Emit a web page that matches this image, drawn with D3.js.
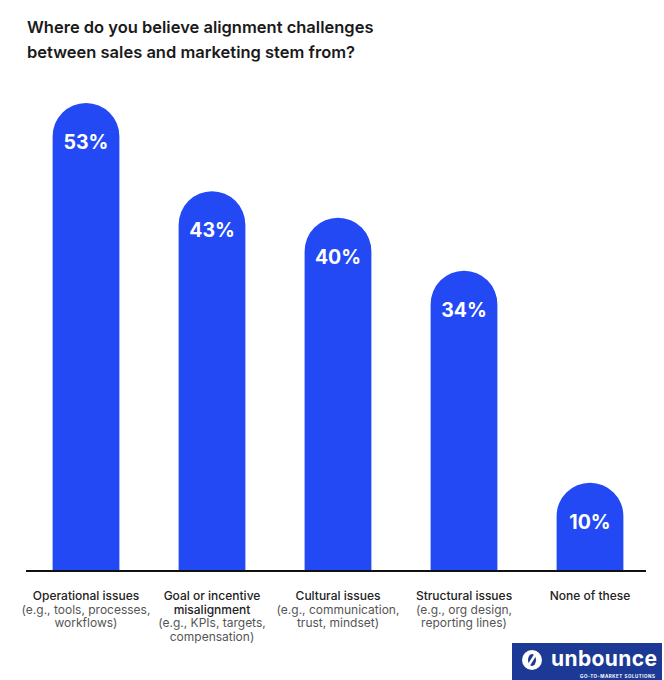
<!DOCTYPE html>
<html>
<head>
<meta charset="utf-8">
<script src="https://cdn.jsdelivr.net/npm/d3@7"></script>
<style>
  html, body { margin: 0; padding: 0; background: #fff; }
  svg { display: block; font-family: Inter, "Noto Sans", sans-serif; }
</style>
</head>
<body>
<svg id="chart" width="664" height="680"></svg>
<script>
const titleLines = ["Where do you believe alignment challenges", "between sales and marketing stem from?"];
const categories = ["Operational issues", "Goal or incentive misalignment", "Cultural issues", "Structural issues", "None of these"];
const values = [53, 43, 40, 34, 10];
const labelHeads = [["Operational issues"], ["Goal or incentive", "misalignment"], ["Cultural issues"], ["Structural issues"], ["None of these"]];
const labelDetails = [["(e.g., tools, processes,", "workflows)"], ["(e.g., KPIs, targets,", "compensation)"], ["(e.g., communication,", "trust, mindset)"], ["(e.g., org design,", "reporting lines)"], []];

const svg = d3.select("#chart");
const baseY = 571;
const blue = "#2349F5";

// title
svg.append("text")
  .attr("x", 27).attr("y", 33)
  .attr("font-size", 16.5).attr("font-weight", 600).attr("fill", "#1a1a1a")
  .selectAll("tspan").data(titleLines).join("tspan")
  .attr("x", 27).attr("dy", (d, i) => i ? 25 : 0).text(d => d);

const x = d3.scaleBand().domain(categories).range([23, 653]).paddingInner(0.47).paddingOuter(0.235);
const y = d3.scaleLinear().domain([0, 53]).range([baseY, 103]);

const bw = x.bandwidth();
function barPath(d, i) {
  const x0 = x(categories[i]), x1 = x0 + bw, r = bw / 2;
  const top = y(d);
  const p = d3.path();
  p.moveTo(x0, baseY);
  p.lineTo(x0, top + r);
  p.arc(x0 + r, top + r, r, Math.PI, 0);
  p.lineTo(x1, baseY);
  p.closePath();
  return p.toString();
}

svg.append("g").selectAll("path").data(values).join("path")
  .attr("d", barPath).attr("fill", blue);

svg.append("g").selectAll("text").data(values).join("text")
  .attr("x", (d, i) => x(categories[i]) + bw / 2)
  .attr("y", d => y(d) + 46)
  .attr("text-anchor", "middle")
  .attr("font-size", 19.5).attr("font-weight", 700).attr("fill", "#fff")
  .text(d => d + "%");

// baseline
svg.append("line")
  .attr("x1", 26).attr("x2", 646).attr("y1", baseY).attr("y2", baseY)
  .attr("stroke", "#111").attr("stroke-width", 2);

// category labels
const lab = svg.append("g").selectAll("text").data(categories).join("text")
  .attr("text-anchor", "middle")
  .attr("font-size", 12);
lab.each(function (c, i) {
  const t = d3.select(this);
  const cx = x(c) + bw / 2;
  let k = 0;
  labelHeads[i].forEach(s => {
    t.append("tspan").attr("x", cx).attr("y", 600 + 13.5 * k++).attr("font-weight", 500).attr("fill", "#222").text(s);
  });
  labelDetails[i].forEach(s => {
    t.append("tspan").attr("x", cx).attr("y", 600 + 13.5 * k++).attr("font-weight", 400).attr("fill", "#555").text(s);
  });
});

// logo
const logo = svg.append("g");
logo.append("rect").attr("x", 512).attr("y", 643).attr("width", 150).attr("height", 37).attr("fill", "#1C3A95");
logo.append("circle").attr("cx", 532).attr("cy", 660).attr("r", 10).attr("fill", "#fff");
logo.append("ellipse").attr("cx", 532).attr("cy", 660).attr("rx", 4).attr("ry", 6).attr("fill", "#1C3A95");
logo.append("line").attr("x1", 527).attr("y1", 668).attr("x2", 537).attr("y2", 652).attr("stroke", "#fff").attr("stroke-width", 2.5);
logo.append("text").attr("x", 551).attr("y", 666).attr("font-size", 21).attr("font-weight", 700).attr("fill", "#fff").attr("textLength", 106).text("unbounce");
logo.append("text").attr("x", 580).attr("y", 678).attr("font-size", 4.5).attr("font-weight", 700).attr("fill", "#fff").attr("textLength", 75).text("GO-TO-MARKET SOLUTIONS");
</script>
</body>
</html>
